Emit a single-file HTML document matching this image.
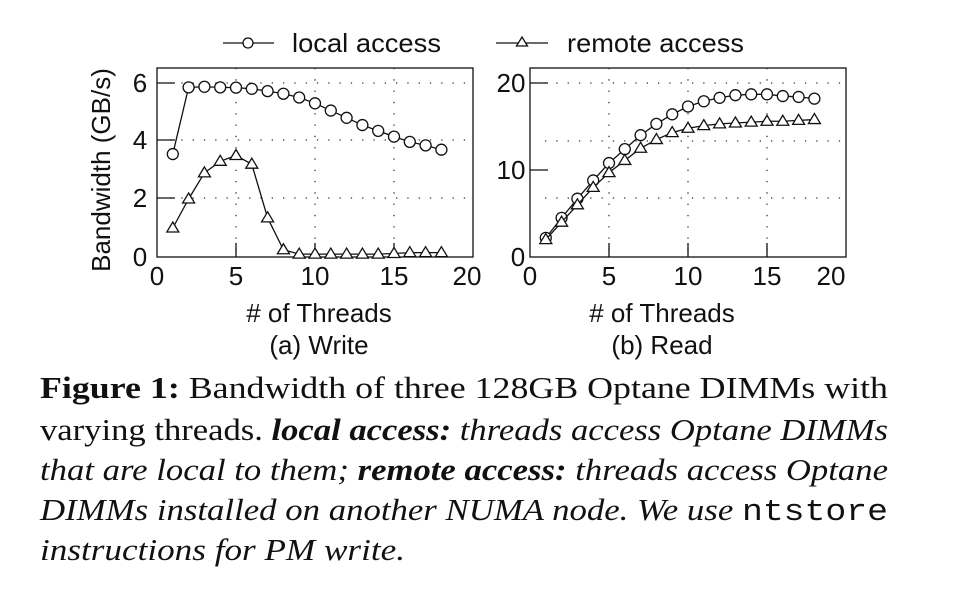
<!DOCTYPE html>
<html><head><meta charset="utf-8"><style>
html,body{margin:0;padding:0;background:#fff;}
svg{display:block}
.s{font-family:"Liberation Sans",sans-serif;fill:#111}
.c{font-family:"Liberation Serif",serif;fill:#111;font-size:31px}
.m{font-family:"Liberation Mono",monospace}
</style></head><body>
<svg id="g" width="980" height="608" viewBox="0 0 980 608" xmlns="http://www.w3.org/2000/svg">
<g stroke="#111" stroke-width="1.3" fill="none">
<rect x="157" y="68" width="316" height="189"/>
<rect x="530" y="68" width="316" height="189"/>
</g>
<g stroke="#333" stroke-width="1.3" stroke-dasharray="1.3 10" fill="none">
<path d="M170 83H473M170 140H473M170 198H473M236 68V257M315 68V257M394 68V257"/>
<path d="M545 83H846M545 141H846M545 198H846M609 68V257M688 68V257M767 68V257"/>
</g>
<g stroke="#111" stroke-width="1.3">
<path d="M157 83h18M157 140h18M157 198h18M236 257v-14M315 257v-14M394 257v-14"/>
<path d="M530 83h18M530 170h18M609 257v-14M688 257v-14M767 257v-14"/>
</g>
<g class="s" font-size="26" text-anchor="middle">
<text x="157" y="285">0</text><text x="236" y="285">5</text><text x="315" y="285">10</text><text x="394" y="285">15</text><text x="467" y="285">20</text>
<text x="530" y="285">0</text><text x="609" y="285">5</text><text x="688" y="285">10</text><text x="767" y="285">15</text><text x="831" y="285">20</text>
<text x="140" y="92">6</text><text x="140" y="149">4</text><text x="140" y="207">2</text><text x="140" y="266">0</text>
<text x="511" y="92">20</text><text x="511" y="179">10</text><text x="518" y="266">0</text>
<text x="319" y="322">#&#160;of Threads</text><text x="319" y="354">(a) Write</text>
<text x="662" y="322">#&#160;of Threads</text><text x="662" y="354">(b) Read</text>
<text transform="translate(110 170) rotate(-90)">Bandwidth (GB/s)</text>
</g>
<g class="s" font-size="26">
<text x="292" y="52" textLength="149" lengthAdjust="spacingAndGlyphs">local access</text>
<text x="567" y="52" textLength="177" lengthAdjust="spacingAndGlyphs">remote access</text>
</g>
<g stroke="#111" stroke-width="1.3" fill="#fff">
<path d="M223 43H274" fill="none"/><circle cx="248" cy="43" r="5"/>
<path d="M496 43H548" fill="none"/><path d="M522 37l5.5 9h-11z"/>
</g>
<g id="d" stroke="#111" stroke-width="1.3" fill="#fff"></g>
<g>
<text class="c" x="40" y="398" textLength="848" lengthAdjust="spacingAndGlyphs"><tspan font-weight="bold">Figure 1:</tspan> Bandwidth of three 128GB Optane DIMMs with</text>
<text class="c" x="40" y="440" textLength="848" lengthAdjust="spacingAndGlyphs">varying threads. <tspan font-weight="bold" font-style="italic">local access:</tspan> <tspan font-style="italic">threads access Optane DIMMs</tspan></text>
<text class="c" x="40" y="480" textLength="848" lengthAdjust="spacingAndGlyphs" font-style="italic">that are local to them; <tspan font-weight="bold">remote access:</tspan> threads access Optane</text>
<text class="c" x="40" y="520" textLength="848" lengthAdjust="spacingAndGlyphs"><tspan font-style="italic">DIMMs installed on another NUMA node. We use </tspan><tspan class="m">ntstore</tspan></text>
<text class="c" x="40" y="560" textLength="365" lengthAdjust="spacingAndGlyphs" font-style="italic">instructions for PM write.</text>
</g>
</svg>
<script>
var ns="http://www.w3.org/2000/svg",d=document.getElementById("d");
function el(t,a){var e=document.createElementNS(ns,t);for(var k in a)e.setAttribute(k,a[k]);d.appendChild(e);return e;}
function series(x0,y0,sy,vals,tri){
 var pts=vals.map(function(v,i){return [x0+(i+1)*15.8,y0-v*sy];});
 el("polyline",{points:pts.map(function(p){return p.join(",")}).join(" "),fill:"none"});
 pts.forEach(function(p){
  if(tri)el("path",{d:"M"+p[0]+" "+(p[1]-6)+"l6 10h-12z"});
  else el("circle",{cx:p[0],cy:p[1],r:5.5});
 });
}
series(157,257,29,[3.55,5.85,5.87,5.85,5.84,5.8,5.72,5.63,5.5,5.3,5.05,4.8,4.55,4.35,4.15,3.97,3.85,3.7],false);
series(157,257,29,[1.0,2.0,2.9,3.3,3.5,3.2,1.35,0.25,0.1,0.1,0.1,0.1,0.1,0.1,0.12,0.15,0.15,0.15],true);
series(530,257,8.7,[2.2,4.5,6.7,8.8,10.8,12.4,14,15.3,16.4,17.3,17.9,18.3,18.6,18.7,18.7,18.5,18.4,18.2],false);
series(530,257,8.7,[2,4,6,8,9.7,11.1,12.5,13.5,14.3,14.8,15.1,15.3,15.4,15.5,15.6,15.6,15.7,15.8],true);
</script>
</body></html>
